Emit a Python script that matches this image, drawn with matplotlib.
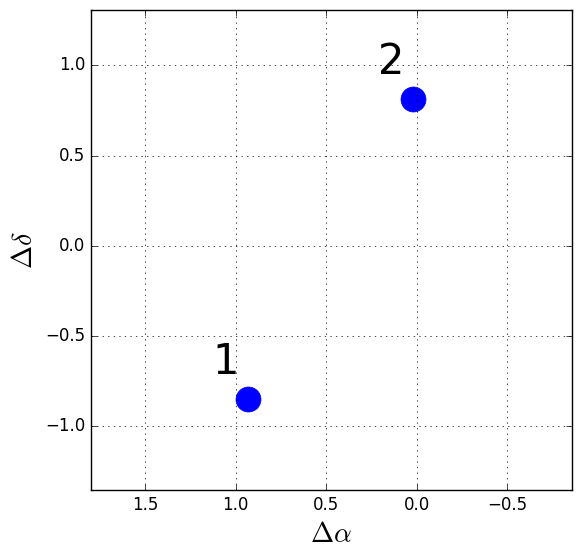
import matplotlib
matplotlib.use("Agg")
import matplotlib.pyplot as plt

plt.style.use("classic")

# data
dalpha = [0.934, 0.019]
ddelta = [-0.849, 0.811]
labels = ["1", "2"]

xlim = (1.80, -0.855)
ylim = (-1.353, 1.306)
xticks = [1.5, 1.0, 0.5, 0.0, -0.5]
yticks = [-1.0, -0.5, 0.0, 0.5, 1.0]

fig = plt.figure(figsize=(5.8, 5.58), dpi=100, facecolor="white")
ax = fig.add_axes([0.1564, 0.1219, 0.9857 - 0.1564, 0.982 - 0.1219])

ax.plot(dalpha, ddelta, "o", color="blue", markeredgecolor="blue", markersize=18, linestyle="none")
for xv, yv, lab in zip(dalpha, ddelta, labels):
    ax.annotate(lab, (xv, yv), xytext=(-22, 25), textcoords="offset pixels",
                ha="center", va="baseline", fontsize=30)

ax.set_xlim(*xlim)
ax.set_ylim(*ylim)
ax.set_xticks(xticks)
ax.set_yticks(yticks)
ax.tick_params(labelsize=12)
ax.grid(True)
ax.set_xlabel(r"$\Delta\alpha$", fontsize=20)
ax.set_ylabel(r"$\Delta\delta$", fontsize=20)

fig.savefig("out.png", dpi=100, facecolor="white")
